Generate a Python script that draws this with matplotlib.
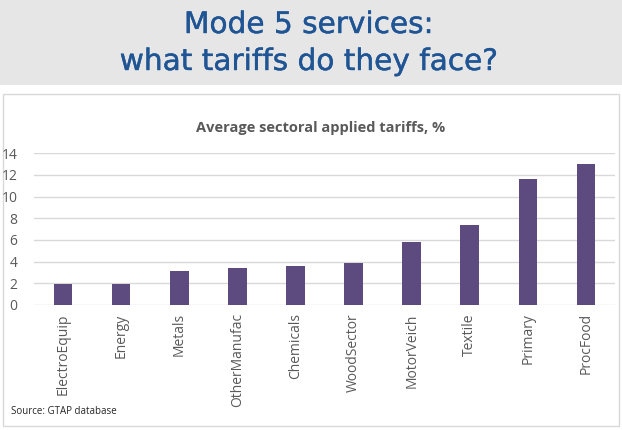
import matplotlib
matplotlib.use("Agg")
import matplotlib.pyplot as plt
import matplotlib.patheffects as pe
from matplotlib.patches import Rectangle

categories = ["ElectroEquip", "Energy", "Metals", "OtherManufac", "Chemicals",
              "WoodSector", "MotorVeich", "Textile", "Primary", "ProcFood"]
tariffs = [1.93, 1.93, 3.13, 3.43, 3.59, 3.87, 5.8, 7.37, 11.6, 12.98]
yticks = [0, 2, 4, 6, 8, 10, 12, 14]

W, H = 622, 430
fig = plt.figure(figsize=(W / 100, H / 100), dpi=100)
fig.patch.set_facecolor("white")

# banner
fig.patches.append(Rectangle((0, (H - 85) / H), 1, 85 / H, transform=fig.transFigure,
                             facecolor="#E6E6E6", edgecolor="none", zorder=-10))
# chart box
fig.patches.append(Rectangle((3 / W, 4 / H), 616 / W, 332 / H, transform=fig.transFigure,
                             facecolor="white", edgecolor="#D9D9D9", linewidth=1, zorder=-10))

title_color = "#1F5594"
effects = [pe.withStroke(linewidth=0.3, foreground=title_color)]
fig.text(309 / W, 1 - 33 / H, "Mode 5 services:", ha="center", va="baseline",
         fontsize=21.3, color=title_color, family="DejaVu Sans", path_effects=effects)
fig.text(309 / W, 1 - 70 / H, "what tariffs do they face?", ha="center", va="baseline",
         fontsize=21.3, color=title_color, family="DejaVu Sans", path_effects=effects)

fig.text(321 / W, 1 - 128 / H, "Average sectoral applied tariffs, %", ha="center", va="center",
         fontsize=10.5, fontweight="bold", color="#595959", family="Open Sans")

ax = fig.add_axes([34 / W, 125 / H, 581 / W, 151.7 / H])
ax.set_zorder(5)
ax.set_facecolor("none")
x = range(len(categories))
ax.bar(x, tariffs, width=0.32, color="#5D4A7F", zorder=3)
ax.set_xlim(-0.5, len(categories) - 0.5)
ax.set_ylim(0, 14)
ax.set_yticks(yticks)
ax.set_yticklabels([str(v) for v in yticks], family="Open Sans", fontsize=10, color="#595959")
ax.set_xticks(list(x))
ax.set_xticklabels(categories, rotation=90, family="Open Sans", fontsize=10, color="#595959")
ax.tick_params(axis="both", length=0)
ax.tick_params(axis="x", pad=6)
ax.tick_params(axis="y", pad=12)
ax.grid(axis="y", color="#D9D9D9", linewidth=1, zorder=0)
for s in ax.spines.values():
    s.set_visible(False)

fig.text(11 / W, 1 - 412 / H, "Source: GTAP database", ha="left", va="center",
         fontsize=7, color="#262626", family="Open Sans")

fig.savefig("out.png", dpi=100)
